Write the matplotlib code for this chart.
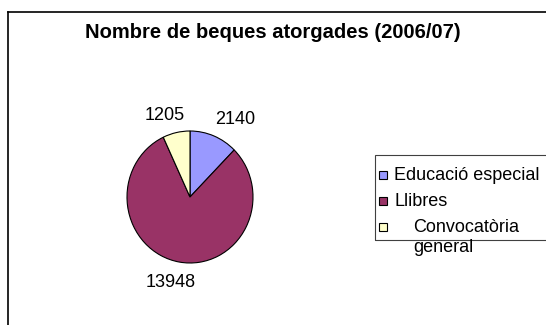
import matplotlib.pyplot as plt
from matplotlib.patches import Rectangle
from matplotlib.lines import Line2D

plt.rcParams['font.family'] = ['Liberation Sans', 'DejaVu Sans']

# Scholarships granted, 2006/07
categories = ["Educació especial", "Llibres", "Convocatòria\ngeneral"]
values = [2140, 13948, 1205]
colors = ["#9999FF", "#993366", "#FFFFCC"]

# where each value label sits around the pie (pie-radius units)
label_pos = [(0.71, 1.17), (-0.30, -1.30), (-0.40, 1.23)]

W, H = 546, 325
fig = plt.figure(figsize=(W / 100, H / 100), dpi=100)
fig.patch.set_facecolor("white")

def fx(px):
    return px / W

def fy(py):
    return 1 - py / H

# outer chart frame (only top and left edges fall inside the image)
fig.add_artist(Line2D([fx(8), fx(8)], [fy(12), fy(330)], color="black", lw=1.2))
fig.add_artist(Line2D([fx(8), fx(550)], [fy(12), fy(12)], color="black", lw=1.2))

fig.text(fx(273), fy(33), "Nombre de beques atorgades (2006/07)",
         ha="center", va="center", fontsize=14.5, fontweight="bold")

# pie area
cx, cy, rx, ry = 190, 197, 63, 66
ax = fig.add_axes([fx(cx - rx), fy(cy + ry), 2 * rx / W, 2 * ry / H])
ax.pie(values, colors=colors, startangle=90, counterclock=False,
       wedgeprops=dict(edgecolor="black", linewidth=0.8))
ax.set_aspect("auto")
ax.set_xlim(-1, 1)
ax.set_ylim(-1, 1)
ax.axis("off")
for v, (lx, ly) in zip(values, label_pos):
    ax.text(lx, ly, str(v), ha="center", va="center", fontsize=13, clip_on=False)

# legend box
fig.add_artist(Rectangle((fx(375), fy(240)), fx(560) - fx(375), fy(155) - fy(240),
                         transform=fig.transFigure, facecolor="none",
                         edgecolor="#404040", lw=0.8))
rows = [175, 201, 227]
for cat, col, ry_ in zip(categories, colors, rows):
    fig.add_artist(Rectangle((fx(379), fy(ry_ + 4)), 8 / W, 8 / H,
                             transform=fig.transFigure, facecolor=col,
                             edgecolor="black", lw=0.8))
    if "\n" in cat:
        first, second = cat.split("\n")
        fig.text(fx(413), fy(ry_), first, ha="left", va="center", fontsize=13)
        fig.text(fx(413), fy(ry_ + 21), second, ha="left", va="center", fontsize=13)
    else:
        fig.text(fx(394), fy(ry_), cat, ha="left", va="center", fontsize=13)

fig.savefig("out.png", dpi=100)
